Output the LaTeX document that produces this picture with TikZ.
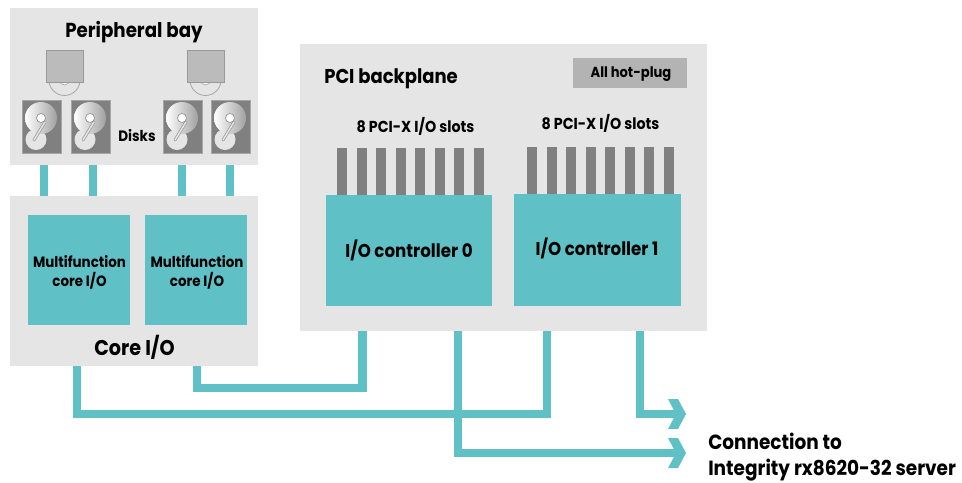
\documentclass[tikz,border=0pt]{standalone}
\usepackage{fontspec}
\setmainfont{Poppins}[FakeStretch=0.9,BoldFont=*,UprightFont=* Bold]
\definecolor{panel}{HTML}{E5E5E5}
\definecolor{teal}{HTML}{5FC0C6}
\definecolor{slotgrey}{HTML}{808080}
\definecolor{hotgrey}{HTML}{B3B3B3}
\newcommand{\rectnode}[6]{\node[#2,minimum width={((#5)-(#3))*0.75pt},minimum height={((#6)-(#4))*0.75pt}] (#1) at ({((#3)+(#5))/2},{((#4)+(#6))/2}) {};}
\newcommand{\harddisk}[2]{%
  \rectnode{hd#1}{disk}{#2}{100}{#2+39}{153}
  \fill[panel] (#2+14,139.5) circle[radius=10.5];
  \shade[left color=white,right color=slotgrey!75!white] (#2+19,118) circle[radius=16];
  \draw[line width=2.2pt,slotgrey!80!white,line cap=round] (#2+23,122) -- (#2+12,140);
  \draw[line width=1.1pt,panel,line cap=round] (#2+23,122) -- (#2+12,140);
  \draw[slotgrey,fill=white,line width=0.4pt] (#2+19,118) circle[radius=4.5];
}
\newcommand{\optical}[2]{%
  \draw[slotgrey!70!white,fill=panel,line width=0.6pt] (#2+18.5,80) circle[radius=15.5];
  \draw[slotgrey!70!white,fill=white,line width=0.5pt] (#2+18.5,80) circle[radius=5];
  \rectnode{od#1}{drive}{#2}{50}{#2+37}{82}
}
\newcommand{\slots}[3]{%
  \foreach \i in {0,...,7} {\rectnode{s#1\i}{slotbar}{#2+19.55*\i}{#3}{#2+19.55*\i+10}{#3+48}}
}
\newcommand{\chevron}[3]{\fill[teal] (#2,#3-15) -- (#2+10,#3-15) -- (#2+18,#3) -- (#2+10,#3+15) -- (#2,#3+15) -- (#2+8,#3) -- cycle;}
\tikzset{
  panelbox/.style={fill=panel,inner sep=0pt,outer sep=0pt},
  tealbox/.style={fill=teal,inner sep=0pt,outer sep=0pt},
  disk/.style={fill=slotgrey,draw=slotgrey!70!white,line width=0.3pt,inner sep=0pt,outer sep=0pt},
  drive/.style={fill=hotgrey!90!white,draw=slotgrey!80!white,line width=0.6pt,inner sep=0pt,outer sep=0pt},
  slotbar/.style={fill=slotgrey,inner sep=0pt,outer sep=0pt},
  hotbox/.style={fill=hotgrey,inner sep=0pt,outer sep=0pt},
  wire/.style={draw=teal,line width=6.2pt,line join=miter,line cap=butt},
  txt/.style={inner sep=0pt,text=black},
  big/.style={txt,font=\fontsize{15.2}{17}\selectfont},
  mid/.style={txt,font=\fontsize{11.9}{13}\selectfont},
  small/.style={txt,font=\fontsize{11.2}{14.2}\selectfont,align=center},
  con/.style={txt,font=\fontsize{15.4}{19}\selectfont,align=left},
}
\begin{document}
\begin{tikzpicture}[x=0.75pt,y=-0.75pt]
\useasboundingbox (0,0) rectangle (962,482);
% panels
\rectnode{bay}{panelbox}{10}{8}{258}{165}
\rectnode{core}{panelbox}{10}{196}{258}{366}
\rectnode{pci}{panelbox}{300}{44}{707}{331}
% bay to core links
\foreach \n/\x in {a/44,b/93,c/182,d/230} {
  \coordinate (x\n) at (\x,180);
  \draw[wire] (x\n |- bay.south) -- (x\n |- core.north);
}
% peripheral bay
\node[big] (baytitle) at (134,32) {Peripheral bay};
\optical{1}{46}
\optical{2}{187}
\harddisk{1}{22}
\harddisk{2}{71}
\harddisk{3}{163}
\harddisk{4}{211}
\node[mid,font=\fontsize{11.3}{13}\selectfont] (disks) at (137,136) {Disks};
% core i/o
\rectnode{mf0}{tealbox}{28}{215}{130}{325}
\rectnode{mf1}{tealbox}{145}{215}{247}{325}
\node[small] (mf0t) at (79.5,272) {Multifunction\\core I/O};
\node[small] (mf1t) at (197,272) {Multifunction\\core I/O};
\node[big,font=\fontsize{16}{17}\selectfont] (coret) at (134.5,347) {Core I/O};
% backplane
\node[big,font=\fontsize{15}{17}\selectfont,anchor=west] (pcit) at (324,79) {PCI backplane};
\rectnode{hot}{hotbox}{573}{58}{687}{88}
\node[mid,font=\fontsize{10.9}{13}\selectfont] (hott) at (631,74) {All hot-plug};
\node[mid] (sl0t) at (415.5,126) {8 PCI-X I/O slots};
\node[mid] (sl1t) at (600.5,123) {8 PCI-X I/O slots};
\slots{a}{337}{148}
\slots{b}{527}{147}
\rectnode{ctl0}{tealbox}{326}{195}{492}{306}
\rectnode{ctl1}{tealbox}{514}{194}{681}{306}
\node[big,font=\fontsize{13.9}{17}\selectfont] (ctl0t) at (409,250) {I/O controller 0};
\node[big,font=\fontsize{13.9}{17}\selectfont] (ctl1t) at (597,248) {I/O controller 1};
% lower connectors
\coordinate (la) at (197,388);
\coordinate (lar) at (362.6,388);
\coordinate (lb) at (77,413.7);
\coordinate (lbr) at (547,413.7);
\coordinate (lc) at (458,453);
\coordinate (lcend) at (678,453);
\coordinate (ld) at (640,414);
\coordinate (ldend) at (678,414);
\draw[wire] (la |- core.south) -- (la) -- (lar) -- (lar |- pci.south);
\draw[wire] (lb |- core.south) -- (lb) -- (lbr) -- (lbr |- pci.south);
\draw[wire] (lc |- pci.south) -- (lc) -- (lcend);
\draw[wire] (ld |- pci.south) -- (ld) -- (ldend);
\chevron{1}{668}{414}
\chevron{2}{668}{453}
\node[con,anchor=north west] (conn) at (708,433) {Connection to\\Integrity rx8620-32 server};
\end{tikzpicture}
\end{document}
